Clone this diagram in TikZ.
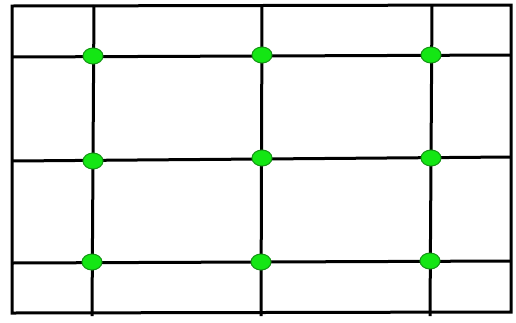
\documentclass[tikz,border=0pt]{standalone}
\usetikzlibrary{shapes.geometric}
\definecolor{dotgreen}{RGB}{20,230,20}
\definecolor{dotedge}{RGB}{20,150,20}
\tikzset{
  gridline/.style={line width=3pt, black},
  gdot/.style={ellipse, fill=dotgreen, draw=dotedge, line width=1pt, minimum width=20pt, minimum height=16pt, inner sep=0pt}
}
\begin{document}
\begin{tikzpicture}[x=1pt,y=-1pt]
\useasboundingbox (0,0) rectangle (516,322);
% outer frame
\coordinate (tl) at (12,6);
\coordinate (tr) at (511,5);
\coordinate (br) at (511,312);
\coordinate (bl) at (12,313);
\draw[gridline, line join=miter] (tl) -- (tr) -- (br) -- (bl) -- cycle;
% verticals
\coordinate (v1t) at (94,5);  \coordinate (v1b) at (92,316);
\coordinate (v2t) at (262,5); \coordinate (v2b) at (261,316);
\coordinate (v3t) at (432,5); \coordinate (v3b) at (430,316);
\draw[gridline] (v1t) -- (v1b);
\draw[gridline] (v2t) -- (v2b);
\draw[gridline] (v3t) -- (v3b);
% horizontals
\coordinate (h1l) at (12,57);  \coordinate (h1r) at (511,55);
\coordinate (h2l) at (12,161); \coordinate (h2r) at (511,157);
\coordinate (h3l) at (12,263); \coordinate (h3r) at (511,261);
\draw[gridline] (h1l) -- (h1r);
\draw[gridline] (h2l) -- (h2r);
\draw[gridline] (h3l) -- (h3r);
% dots
\node[gdot] (d11) at (93,56) {};
\node[gdot] (d12) at (262,55) {};
\node[gdot] (d13) at (431,55) {};
\node[gdot] (d21) at (93,161) {};
\node[gdot] (d22) at (262,158) {};
\node[gdot] (d23) at (431,158) {};
\node[gdot] (d31) at (92,262) {};
\node[gdot] (d32) at (261,262) {};
\node[gdot] (d33) at (430,261) {};
\end{tikzpicture}
\end{document}
